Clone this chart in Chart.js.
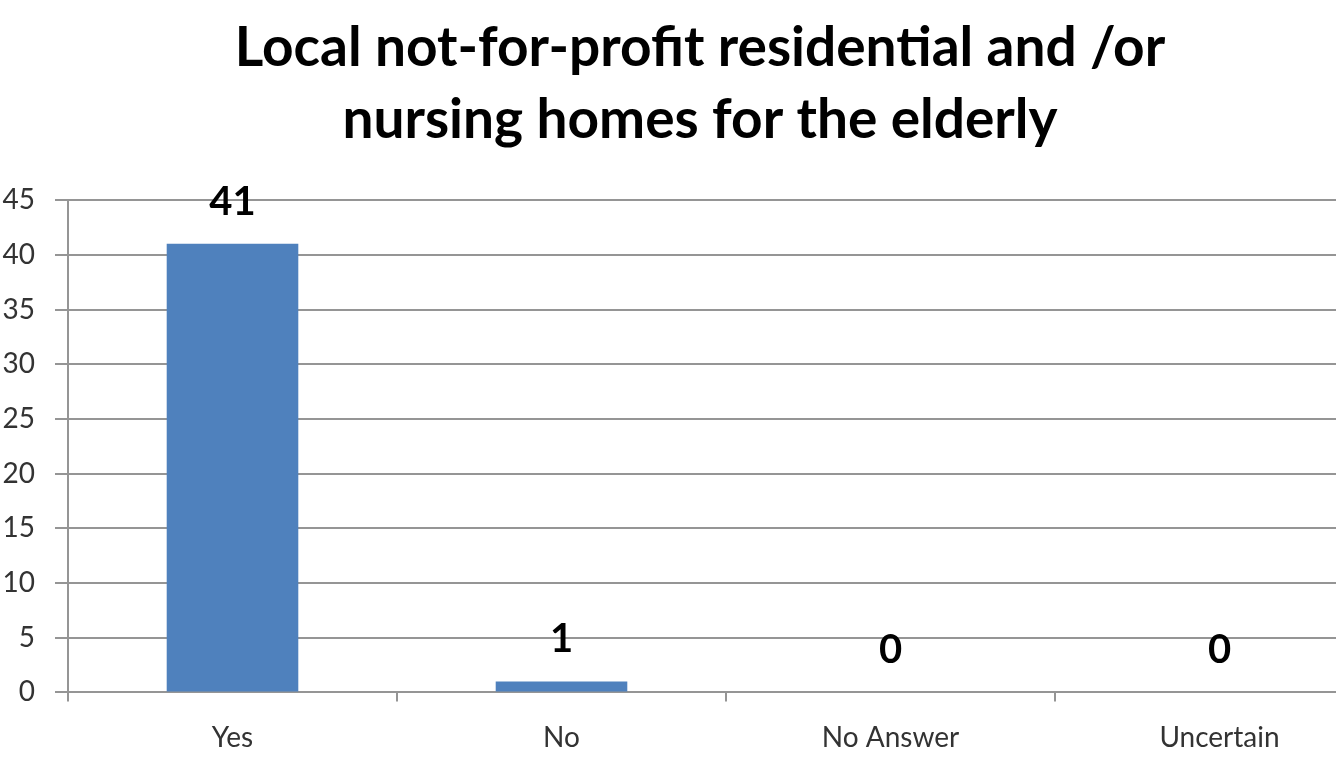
<!DOCTYPE html>
<html>
<head>
<meta charset="utf-8">
<script src="https://cdn.jsdelivr.net/npm/chart.js@4.4.1/dist/chart.umd.min.js"></script>
<style>
  body { margin: 0; background: #fff; }
  .wrap { width: 1336px; height: 775px; overflow: hidden; }
</style>
</head>
<body>
<div class="wrap">
  <canvas id="homesChart" width="1400" height="775"></canvas>
</div>
<script>
const titleLines = ['Local not-for-profit residential and /or', 'nursing homes for the elderly'];
const categories = ['Yes', 'No', 'No Answer', 'Uncertain'];
const responses = [41, 1, 0, 0];
const yTicks = { min: 0, max: 45, step: 5 };

const gridColor = '#959595';

// value labels above each bar, Excel style
const barValueLabels = {
    id: 'barValueLabels',
    afterDatasetsDraw(chart) {
        const ctx = chart.ctx;
        const meta = chart.getDatasetMeta(0);
        ctx.save();
        ctx.font = 'bold 40px Lato';
        ctx.fillStyle = '#000';
        ctx.textAlign = 'center';
        ctx.textBaseline = 'middle';
        meta.data.forEach((bar, i) => {
            ctx.fillText(String(chart.data.datasets[0].data[i]), bar.x, bar.y - 42);
        });
        ctx.restore();
    }
};

// the original title sits a bit right of the canvas centre
const titleNudge = {
    id: 'titleNudge',
    afterLayout(chart) {
        chart.titleBlock.left += 16;
    }
};

const ctx = document.getElementById('homesChart').getContext('2d');

new Chart(ctx, {
    type: 'bar',
    data: {
        labels: categories,
        datasets: [{
            data: responses,
            backgroundColor: '#4f81bd',
            borderWidth: 0,
            barPercentage: 0.4,
            categoryPercentage: 1
        }]
    },
    options: {
        responsive: false,
        animation: false,
        layout: { padding: { left: 0, right: 16, top: 0, bottom: 0 } },
        plugins: {
            legend: { display: false },
            tooltip: { enabled: false },
            title: {
                display: true,
                text: titleLines,
                color: '#000',
                font: { family: 'Lato', size: 55, weight: 'bold', lineHeight: 1.31 },
                padding: { top: 12, bottom: 44 }
            }
        },
        scales: {
            x: {
                grid: {
                    display: true,
                    drawOnChartArea: false,
                    offset: true,
                    tickLength: 9,
                    color: gridColor,
                    lineWidth: 2
                },
                border: { color: gridColor, width: 2 },
                ticks: {
                    color: '#333',
                    padding: 20,
                    font: { family: 'Lato', size: 28 }
                }
            },
            y: {
                min: yTicks.min,
                max: yTicks.max,
                afterFit(scale) { scale.width = 68; },
                grid: { color: gridColor, lineWidth: 2, tickLength: 13 },
                border: { color: gridColor, width: 2 },
                ticks: {
                    stepSize: yTicks.step,
                    color: '#333',
                    padding: 20,
                    font: { family: 'Lato', size: 28 }
                }
            }
        }
    },
    plugins: [barValueLabels, titleNudge]
});
</script>
</body>
</html>
